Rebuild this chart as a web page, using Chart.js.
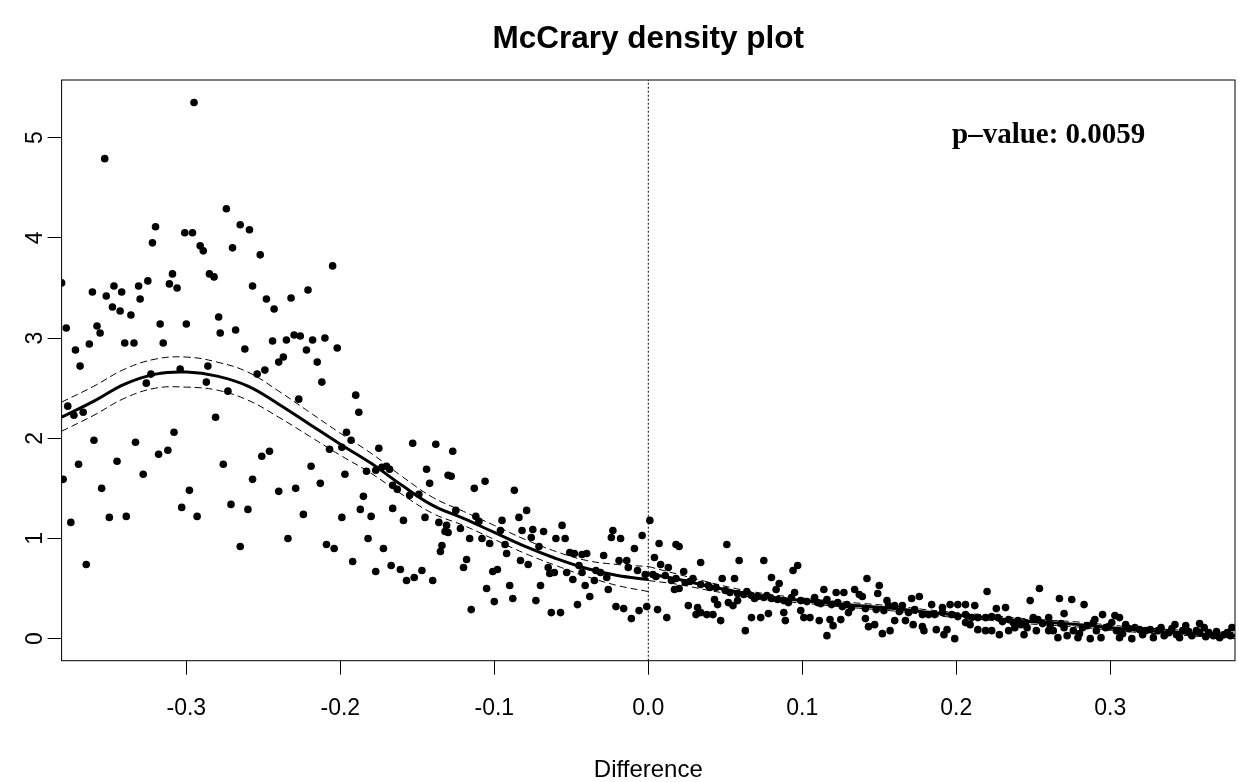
<!DOCTYPE html>
<html>
<head>
<meta charset="utf-8">
<script src="https://cdn.jsdelivr.net/npm/chart.js@4.4.1/dist/chart.umd.min.js"></script>
<style>
  html, body { margin: 0; padding: 0; background: #fff; }
</style>
</head>
<body>
<canvas id="plot" width="1239" height="782"></canvas>
<script>
// histogram bin heights, left of the cutoff: [difference, density]
const leftBins = [
  [-0.295,5.35],[-0.353,4.79],[-0.274,4.29],[-0.320,4.11],[-0.265,4.13],[-0.259,4.08],[-0.301,4.05],[-0.296,4.05],
  [-0.322,3.95],[-0.291,3.92],[-0.289,3.87],[-0.270,3.90],[-0.309,3.64],[-0.285,3.64],[-0.282,3.61],[-0.325,3.57],
  [-0.381,3.55],[-0.347,3.52],[-0.331,3.52],[-0.311,3.54],[-0.306,3.50],[-0.257,3.52],[-0.361,3.46],[-0.352,3.42],
  [-0.342,3.46],[-0.330,3.39],[-0.348,3.31],[-0.343,3.27],[-0.336,3.23],[-0.378,3.10],[-0.358,3.12],[-0.356,3.05],
  [-0.317,3.14],[-0.300,3.14],[-0.279,3.21],[-0.278,3.05],[-0.268,3.08],[-0.340,2.95],[-0.334,2.95],[-0.315,2.95],
  [-0.363,2.94],[-0.372,2.88],[-0.262,2.89],[-0.369,2.72],[-0.286,2.72],[-0.304,2.69],[-0.323,2.64],[-0.326,2.55],
  [-0.287,2.56],[-0.273,2.47],[-0.377,2.32],[-0.373,2.23],[-0.367,2.26],[-0.281,2.21],[-0.308,2.06],[-0.360,1.98],
  [-0.333,1.96],[-0.312,1.88],[-0.318,1.84],[-0.370,1.74],[-0.345,1.77],[-0.276,1.74],[-0.380,1.59],[-0.328,1.64],
  [-0.355,1.50],[-0.375,1.16],[-0.350,1.21],[-0.339,1.22],[-0.298,1.48],[-0.303,1.31],[-0.293,1.22],[-0.271,1.34],
  [-0.260,1.29],[-0.257,1.59],[-0.265,0.92],[-0.365,0.74],
  [-0.252,3.83],[-0.205,3.72],[-0.248,3.39],[-0.232,3.40],[-0.221,3.48],[-0.243,3.29],[-0.244,2.97],[-0.235,2.98],
  [-0.230,3.03],[-0.226,3.02],[-0.218,2.98],[-0.210,3.00],[-0.222,2.88],[-0.202,2.90],[-0.237,2.81],[-0.240,2.76],
  [-0.215,2.76],[-0.249,2.68],[-0.254,2.64],[-0.212,2.56],[-0.190,2.43],[-0.188,2.26],[-0.227,2.39],[-0.196,2.06],
  [-0.193,1.98],[-0.199,1.91],[-0.207,1.89],[-0.175,1.90],[-0.153,1.95],[-0.138,1.94],[-0.246,1.87],[-0.251,1.82],
  [-0.219,1.72],[-0.170,1.72],[-0.144,1.69],[-0.183,1.67],[-0.240,1.47],[-0.229,1.50],[-0.213,1.55],[-0.197,1.64],
  [-0.177,1.68],[-0.173,1.71],[-0.168,1.69],[-0.142,1.55],[-0.130,1.63],[-0.224,1.24],[-0.199,1.21],[-0.185,1.42],
  [-0.187,1.29],[-0.180,1.22],[-0.166,1.30],[-0.159,1.18],[-0.145,1.21],[-0.136,1.16],[-0.132,1.07],[-0.166,1.53],
  [-0.163,1.49],[-0.155,1.43],[-0.149,1.44],[-0.234,1.00],[-0.209,0.94],[-0.204,0.90],[-0.182,1.00],[-0.172,0.90],
  [-0.134,0.93],[-0.135,0.87],[-0.192,0.77],[-0.167,0.73],[-0.161,0.69],[-0.177,0.67],[-0.147,0.68],[-0.152,0.61],
  [-0.157,0.58],[-0.140,0.58],
  [-0.127,1.87],[-0.128,1.62],[-0.113,1.50],[-0.106,1.57],[-0.087,1.48],[-0.125,1.28],[-0.131,1.13],[-0.130,1.06],
  [-0.122,1.10],[-0.112,1.22],[-0.110,1.17],[-0.095,1.18],[-0.079,1.28],[-0.084,1.21],[-0.096,1.08],[-0.082,1.08],
  [-0.075,1.09],[-0.076,1.01],[-0.068,1.07],[-0.056,1.13],[-0.060,1.00],[-0.054,1.00],[-0.116,1.00],[-0.108,1.00],
  [-0.103,0.95],[-0.093,0.94],[-0.092,0.85],[-0.071,0.92],[-0.083,0.78],[-0.078,0.74],[-0.118,0.79],[-0.120,0.71],
  [-0.101,0.67],[-0.098,0.69],[-0.065,0.71],[-0.064,0.65],[-0.061,0.66],[-0.051,0.86],[-0.048,0.85],[-0.043,0.84],
  [-0.040,0.85],[-0.029,0.83],[-0.023,1.08],[-0.024,1.01],[-0.018,1.00],[-0.009,0.90],[-0.004,1.03],[-0.019,0.78],
  [-0.014,0.78],[-0.013,0.71],[-0.007,0.68],[-0.045,0.73],[-0.043,0.66],[-0.053,0.66],[-0.034,0.68],[-0.031,0.66],
  [-0.027,0.61],[-0.035,0.58],[-0.002,0.64],[-0.049,0.59],[-0.090,0.53],[-0.070,0.53],[-0.041,0.53],[-0.026,0.49],
  [-0.105,0.50],[-0.088,0.40],[-0.100,0.37],[-0.073,0.38],[-0.038,0.42],[-0.115,0.29],[-0.063,0.26],[-0.057,0.26],
  [-0.046,0.34],[-0.021,0.32],[-0.016,0.30],[-0.011,0.20],[-0.006,0.28],[-0.001,0.32]
];

// histogram bin heights, right of the cutoff
const rightBins = [
  [0.001,1.18],[0.007,0.95],[0.004,0.81],[0.008,0.74],[0.003,0.64],[0.006,0.29],[0.018,0.94],[0.020,0.92],
  [0.051,0.94],[0.034,0.76],[0.059,0.78],[0.075,0.78],[0.094,0.68],[0.097,0.73],[0.013,0.71],[0.023,0.67],
  [0.029,0.60],[0.048,0.60],[0.056,0.60],[0.080,0.61],[0.085,0.55],[0.083,0.49],[0.011,0.63],[0.015,0.58],
  [0.017,0.49],[0.020,0.50],[0.034,0.54],[0.039,0.53],[0.043,0.39],[0.045,0.34],[0.052,0.36],[0.055,0.33],
  [0.058,0.38],[0.062,0.44],[0.067,0.43],[0.071,0.42],[0.075,0.41],[0.080,0.40],[0.084,0.39],[0.088,0.38],
  [0.093,0.41],[0.095,0.46],[0.114,0.49],[0.122,0.46],[0.127,0.46],[0.134,0.49],[0.108,0.41],[0.110,0.36],
  [0.116,0.39],[0.123,0.36],[0.129,0.34],[0.026,0.33],[0.032,0.31],[0.034,0.26],[0.031,0.24],[0.038,0.24],
  [0.042,0.24],[0.047,0.18],[0.012,0.21],[0.067,0.21],[0.073,0.21],[0.078,0.25],[0.088,0.26],[0.089,0.18],
  [0.099,0.28],[0.101,0.21],[0.105,0.21],[0.111,0.18],[0.118,0.19],[0.120,0.13],[0.125,0.19],[0.130,0.26],
  [0.063,0.08],[0.116,0.03],[0.024,0.56],[0.044,0.51],[0.050,0.48],[0.053,0.46],[0.058,0.45],[0.064,0.47],
  [0.005,0.62],[0.018,0.60],[0.027,0.57],[0.040,0.51],[0.069,0.40],[0.077,0.43],[0.091,0.36],[0.099,0.38],
  [0.103,0.37],[0.112,0.35],[0.119,0.34],[0.126,0.32],[0.132,0.31],
  [0.142,0.60],[0.150,0.53],[0.149,0.45],[0.137,0.44],[0.139,0.42],[0.220,0.47],[0.254,0.50],[0.248,0.38],
  [0.171,0.40],[0.176,0.42],[0.155,0.38],[0.156,0.33],[0.160,0.33],[0.165,0.33],[0.184,0.34],[0.191,0.31],
  [0.196,0.34],[0.201,0.34],[0.206,0.34],[0.212,0.33],[0.226,0.30],[0.232,0.31],[0.141,0.30],[0.148,0.29],
  [0.173,0.29],[0.178,0.24],[0.182,0.24],[0.186,0.24],[0.191,0.26],[0.197,0.24],[0.206,0.24],[0.210,0.21],
  [0.214,0.21],[0.219,0.21],[0.223,0.22],[0.227,0.21],[0.234,0.19],[0.240,0.18],[0.245,0.16],[0.250,0.21],
  [0.253,0.19],[0.260,0.21],[0.141,0.20],[0.143,0.12],[0.147,0.14],[0.152,0.05],[0.157,0.08],[0.160,0.18],
  [0.167,0.18],[0.172,0.14],[0.178,0.12],[0.179,0.08],[0.187,0.09],[0.192,0.04],[0.194,0.09],[0.199,0.00],
  [0.206,0.16],[0.209,0.14],[0.214,0.09],[0.219,0.08],[0.223,0.08],[0.228,0.04],[0.234,0.08],[0.238,0.11],
  [0.244,0.04],[0.246,0.11],[0.252,0.08],[0.260,0.08],[0.153,0.28],[0.163,0.27],[0.169,0.26],[0.201,0.22],
  [0.230,0.17],[0.237,0.16],[0.242,0.14],[0.256,0.15],
  [0.267,0.40],[0.275,0.39],[0.283,0.34],[0.270,0.25],[0.295,0.24],[0.303,0.23],[0.306,0.21],[0.290,0.19],
  [0.342,0.14],[0.349,0.13],[0.358,0.15],[0.261,0.14],[0.263,0.08],[0.266,0.01],[0.270,0.11],[0.272,0.03],
  [0.276,0.08],[0.279,0.01],[0.282,0.11],[0.287,0.00],[0.289,0.16],[0.291,0.08],[0.294,0.01],[0.297,0.11],
  [0.301,0.16],[0.304,0.08],[0.306,0.01],[0.310,0.14],[0.314,0.00],[0.316,0.11],[0.319,0.09],[0.323,0.08],
  [0.328,0.01],[0.331,0.08],[0.335,0.03],[0.338,0.06],[0.345,0.01],[0.347,0.08],[0.353,0.03],[0.356,0.08],
  [0.361,0.11],[0.364,0.06],[0.367,0.03],[0.371,0.01],[0.374,0.04],[0.378,0.03],[0.379,0.11],
  [0.268,0.15],[0.285,0.13],[0.299,0.12],[0.312,0.10],[0.326,0.09],[0.333,0.11],[0.340,0.10],[0.351,0.07],
  [0.358,0.06],[0.369,0.07],[0.376,0.06],[0.280,0.05],[0.308,0.05],[0.321,0.04],[0.343,0.04],[0.362,0.02]
];

// fitted density and 95% bands, each side of the cutoff
const leftGridX  = [-0.381,-0.36,-0.34,-0.32,-0.30,-0.28,-0.26,-0.24,-0.22,-0.20,-0.18,-0.16,-0.14,-0.12,-0.10,-0.08,-0.06,-0.04,-0.02,0];
const leftFit    = [2.21,2.37,2.54,2.64,2.66,2.62,2.52,2.34,2.14,1.94,1.75,1.53,1.33,1.20,1.06,0.92,0.80,0.70,0.63,0.59];
const leftUpper  = [2.36,2.52,2.69,2.79,2.81,2.76,2.66,2.47,2.26,2.05,1.85,1.62,1.41,1.27,1.13,0.99,0.87,0.78,0.74,0.72];
const leftLower  = [2.07,2.23,2.40,2.50,2.51,2.48,2.38,2.21,2.02,1.83,1.65,1.44,1.25,1.13,0.99,0.85,0.73,0.62,0.53,0.47];

const rightGridX = [0,0.02,0.04,0.06,0.08,0.10,0.12,0.14,0.16,0.18,0.20,0.22,0.24,0.26,0.28,0.30,0.32,0.34,0.36,0.381];
const rightFit   = [0.65,0.59,0.52,0.46,0.41,0.38,0.35,0.325,0.30,0.265,0.235,0.21,0.18,0.16,0.14,0.11,0.085,0.065,0.045,0.03];
const rightUpper = [0.72,0.64,0.56,0.49,0.44,0.405,0.375,0.35,0.325,0.29,0.26,0.235,0.205,0.185,0.165,0.135,0.11,0.09,0.07,0.06];
const rightLower = [0.58,0.54,0.48,0.43,0.38,0.355,0.325,0.30,0.275,0.24,0.21,0.185,0.155,0.135,0.115,0.085,0.06,0.04,0.02,0.00];

const cutoff = 0;
const xTicks = [-0.3,-0.2,-0.1,0.0,0.1,0.2,0.3];
const yTicks = [0,1,2,3,4,5];
const xRange = [-0.381, 0.381];
const yRange = [-0.22, 5.575];
const mainTitle = 'McCrary density plot';
const pLabel = 'p\u2013value: 0.0059';
const pLabelAt = [0.26, 5.02];

const SANS = '"Liberation Sans", Arial, sans-serif';
const toXY = pairs => pairs.map(([x, y]) => ({x, y}));
const zip = (xs, ys) => xs.map((x, i) => ({x, y: ys[i]}));

const lineSet = (data, width, dash) => ({
  type: 'line', data, showLine: true, pointRadius: 0, borderColor: '#000',
  borderWidth: width, borderDash: dash, tension: 0.4, fill: false, order: 1
});

// R-style box round the plot region, the main title (centred on the plot
// region like R does) and the p-value note
const rFrame = {
  id: 'rFrame',
  afterDraw(chart) {
    const {ctx, chartArea: a, scales} = chart;
    ctx.save();
    ctx.strokeStyle = '#000';
    ctx.lineWidth = 1;
    ctx.strokeRect(a.left, a.top, a.right - a.left, a.bottom - a.top);
    ctx.fillStyle = '#000';
    ctx.textAlign = 'center';
    ctx.textBaseline = 'middle';
    ctx.font = 'bold 31.5px ' + SANS;
    ctx.fillText(mainTitle, (a.left + a.right) / 2, 39);
    ctx.font = 'bold 29px "Liberation Serif", "Times New Roman", serif';
    ctx.fillText(pLabel, scales.x.getPixelForValue(pLabelAt[0]), scales.y.getPixelForValue(pLabelAt[1]));
    ctx.restore();
  }
};

new Chart(document.getElementById('plot'), {
  type: 'scatter',
  data: {
    datasets: [
      lineSet(zip(leftGridX, leftFit), 3, []),
      lineSet(zip(leftGridX, leftUpper), 1, [7, 4]),
      lineSet(zip(leftGridX, leftLower), 1, [7, 4]),
      lineSet(zip(rightGridX, rightFit), 3, []),
      lineSet(zip(rightGridX, rightUpper), 1, [7, 4]),
      lineSet(zip(rightGridX, rightLower), 1, [7, 4]),
      {
        type: 'line', data: [{x: cutoff, y: yRange[0]}, {x: cutoff, y: yRange[1]}],
        borderColor: '#000', borderWidth: 1, borderDash: [2, 2], pointRadius: 0, order: 2
      },
      {
        data: toXY(leftBins.concat(rightBins)),
        backgroundColor: '#000', borderWidth: 0, pointRadius: 3.8, order: 5
      }
    ]
  },
  options: {
    responsive: false,
    animation: false,
    devicePixelRatio: 1,
    layout: { padding: { left: 0, right: 0.5, top: 80, bottom: 0 } },
    plugins: {
      legend: { display: false },
      tooltip: { enabled: false },
      title: { display: false }
    },
    scales: {
      x: {
        type: 'linear', min: xRange[0], max: xRange[1],
        afterBuildTicks: s => { s.ticks = xTicks.map(v => ({value: v})); },
        afterFit: s => { s.height = 121.3; },
        ticks: { callback: v => v.toFixed(1), color: '#000', font: { family: SANS, size: 23 }, padding: 20, maxRotation: 0, autoSkip: false },
        grid: { drawOnChartArea: false, drawTicks: true, tickLength: 14, color: '#000', lineWidth: 1 },
        border: { display: false },
        title: { display: true, text: 'Difference', color: '#000', font: { family: SANS, size: 24, lineHeight: 1 }, padding: { top: 0, bottom: 0 } }
      },
      y: {
        type: 'linear', min: yRange[0], max: yRange[1],
        afterBuildTicks: s => { s.ticks = yTicks.map(v => ({value: v})); },
        afterFit: s => { s.width = 61.6; },
        ticks: { callback: v => String(v), color: '#000', font: { family: SANS, size: 23 }, padding: 6, minRotation: 90, maxRotation: 90, crossAlign: 'center', autoSkip: false },
        grid: { drawOnChartArea: false, drawTicks: true, tickLength: 14, color: '#000', lineWidth: 1 },
        border: { display: false }
      }
    }
  },
  plugins: [rFrame]
});
</script>
</body>
</html>
